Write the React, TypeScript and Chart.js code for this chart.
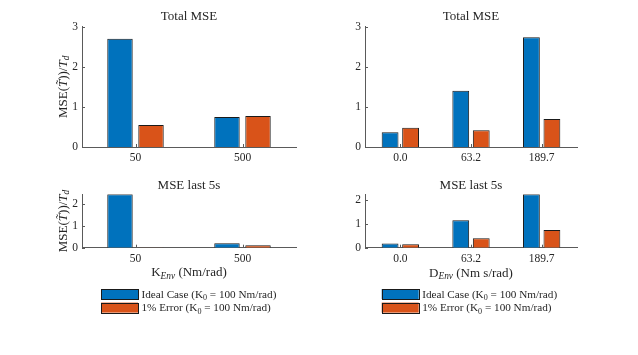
import React, { useEffect, useRef } from 'react';
import { Chart, registerables } from 'chart.js';

Chart.register(...registerables);

// ---------- data ----------
const kCategories = ['50', '500'];
const dCategories = ['0.0', '63.2', '189.7'];

const kTotalIdeal = [2.70, 0.75];
const kTotalError = [0.55, 0.77];
const dTotalIdeal = [0.37, 1.40, 2.74];
const dTotalError = [0.48, 0.42, 0.70];

const kLastIdeal = [2.46, 0.20];
const kLastError = [0.01, 0.11];
const dLastIdeal = [0.17, 1.14, 2.22];
const dLastError = [0.14, 0.39, 0.74];

const seriesNames = ['Ideal Case', '1% Error'];
const seriesColors = ['#0072BD', '#D95319'];
const titles = ['Total MSE', 'MSE last 5s'];

// ---------- styling ----------
const FONT = '"Liberation Serif", "Times New Roman", serif';
const TEXT = '#262626';
const AXIS = '#5a5a5a';
const EDGE = '#1a1a1a';

type Seg = { t: string; it?: boolean; sub?: boolean; tilde?: boolean };

function segFont(s: Seg, size: number) {
  const sz = s.sub ? size * 0.72 : size;
  return `${s.it ? 'italic ' : ''}${sz}px ${FONT}`;
}

function richWidth(ctx: CanvasRenderingContext2D, segs: Seg[], size: number) {
  let w = 0;
  for (const s of segs) {
    ctx.font = segFont(s, size);
    w += ctx.measureText(s.t).width;
  }
  return w;
}

function drawRich(
  ctx: CanvasRenderingContext2D,
  segs: Seg[],
  size: number,
  x: number,
  y: number,
  align: 'left' | 'center'
) {
  const w = richWidth(ctx, segs, size);
  let cx = align === 'center' ? x - w / 2 : x;
  ctx.textBaseline = 'alphabetic';
  for (const s of segs) {
    ctx.font = segFont(s, size);
    ctx.textAlign = 'left';
    const tw = ctx.measureText(s.t).width;
    const dy = s.sub ? size * 0.22 : 0;
    ctx.fillText(s.t, cx, y + dy);
    if (s.tilde) {
      ctx.font = `${size}px ${FONT}`;
      ctx.textAlign = 'center';
      ctx.fillText('\u02DC', cx + tw / 2 + size * 0.1, y - size * 0.12);
      ctx.textAlign = 'left';
    }
    cx += tw;
  }
}

const yLabelSegs: Seg[] = [
  { t: 'MSE(' },
  { t: 'T', it: true, tilde: true },
  { t: '))/' },
  { t: 'T', it: true },
  { t: 'd', it: true, sub: true },
];
const kLabelSegs: Seg[] = [{ t: 'K' }, { t: 'Env', it: true, sub: true }, { t: ' (Nm/rad)' }];
const dLabelSegs: Seg[] = [{ t: 'D' }, { t: 'Env', it: true, sub: true }, { t: ' (Nm s/rad)' }];
const legendSegs = (name: string): Seg[] => [
  { t: `${name} (K` },
  { t: '0', sub: true },
  { t: ' = 100 Nm/rad)' },
];

type Panel = {
  left: number;
  top: number;
  w: number;
  h: number;
  area: { l: number; t: number; r: number; b: number };
  cats: string[];
  ideal: number[];
  error: number[];
  yMax: number;
  title: string;
  titleBase: number;
  yLabel: boolean;
  xLabel: Seg[] | null;
  xLabelBase: number;
  legend: { x: number; y: number } | null;
};

const panels: Panel[] = [
  {
    left: 0, top: 0, w: 319, h: 170,
    area: { l: 82, t: 26.7, r: 296, b: 147 },
    cats: kCategories, ideal: kTotalIdeal, error: kTotalError,
    yMax: 3, title: titles[0], titleBase: 19.5,
    yLabel: true, xLabel: null, xLabelBase: 0, legend: null,
  },
  {
    left: 319, top: 0, w: 319, h: 170,
    area: { l: 46, t: 26.7, r: 258, b: 147 },
    cats: dCategories, ideal: dTotalIdeal, error: dTotalError,
    yMax: 3, title: titles[0], titleBase: 19.5,
    yLabel: false, xLabel: null, xLabelBase: 0, legend: null,
  },
  {
    left: 0, top: 170, w: 319, h: 185,
    area: { l: 82, t: 24.3, r: 296, b: 77.7 },
    cats: kCategories, ideal: kLastIdeal, error: kLastError,
    yMax: Math.max(...kLastIdeal, ...kLastError), title: titles[1], titleBase: 19,
    yLabel: true, xLabel: kLabelSegs, xLabelBase: 106, legend: { x: 101, y: 119 },
  },
  {
    left: 319, top: 170, w: 319, h: 185,
    area: { l: 46, t: 24.3, r: 258, b: 77.7 },
    cats: dCategories, ideal: dLastIdeal, error: dLastError,
    yMax: Math.max(...dLastIdeal, ...dLastError), title: titles[1], titleBase: 18.5,
    yLabel: false, xLabel: dLabelSegs, xLabelBase: 106.5, legend: { x: 62.7, y: 119 },
  },
];

const X_H = 20;

function PanelChart({ p }: { p: Panel }) {
  const ref = useRef<HTMLCanvasElement | null>(null);
  useEffect(() => {
    if (!ref.current) return;
    const decor = {
      id: 'decor',
      afterDraw(chart: any) {
        const ctx: CanvasRenderingContext2D = chart.ctx;
        const ca = chart.chartArea;
        const xs = chart.scales.x;
        const ys = chart.scales.y;
        ctx.save();
        // inward ticks
        ctx.strokeStyle = AXIS;
        ctx.lineWidth = 1;
        ctx.beginPath();
        for (let v = 0; v <= p.yMax + 1e-9; v += 1) {
          const py = Math.round(ys.getPixelForValue(v)) + 0.5;
          ctx.moveTo(ca.left, py);
          ctx.lineTo(ca.left + 3, py);
        }
        for (let i = 0; i < p.cats.length; i++) {
          const px = Math.round(xs.getPixelForValue(i)) + 0.5;
          ctx.moveTo(px, ca.bottom);
          ctx.lineTo(px, ca.bottom - 3);
        }
        ctx.stroke();
        ctx.fillStyle = TEXT;
        // title
        ctx.font = `13px ${FONT}`;
        ctx.textAlign = 'center';
        ctx.textBaseline = 'alphabetic';
        ctx.fillText(p.title, (ca.left + ca.right) / 2, p.titleBase);
        // y label
        if (p.yLabel) {
          ctx.save();
          ctx.translate(66.5, (ca.top + ca.bottom) / 2);
          ctx.rotate(-Math.PI / 2);
          drawRich(ctx, yLabelSegs, 13, 0, 0, 'center');
          ctx.restore();
        }
        // x label
        if (p.xLabel) {
          drawRich(ctx, p.xLabel, 13, (ca.left + ca.right) / 2, p.xLabelBase, 'center');
        }
        // legend
        if (p.legend) {
          const { x, y } = p.legend;
          seriesNames.forEach((name, i) => {
            const ry = y + i * 13.6;
            ctx.fillStyle = seriesColors[i];
            ctx.fillRect(x, ry, 37, 10);
            ctx.strokeStyle = EDGE;
            ctx.lineWidth = 1;
            ctx.strokeRect(Math.round(x) + 0.5, Math.round(ry) + 0.5, 37, 10);
            ctx.fillStyle = TEXT;
            drawRich(ctx, legendSegs(name), 11.2, x + 40.5, ry + 8.7, 'left');
          });
        }
        ctx.restore();
      },
    };
    const chart = new Chart(ref.current, {
      type: 'bar',
      data: {
        labels: p.cats,
        datasets: [
          {
            label: seriesNames[0],
            data: p.ideal,
            backgroundColor: seriesColors[0],
            borderColor: EDGE,
            borderWidth: 1,
            categoryPercentage: 0.58,
            barPercentage: 0.82,
          },
          {
            label: seriesNames[1],
            data: p.error,
            backgroundColor: seriesColors[1],
            borderColor: EDGE,
            borderWidth: 1,
            categoryPercentage: 0.58,
            barPercentage: 0.82,
          },
        ],
      },
      options: {
        animation: false,
        responsive: false,
        maintainAspectRatio: false,
        devicePixelRatio: 1,
        layout: {
          autoPadding: false,
          padding: {
            left: 0,
            top: p.area.t,
            right: p.w - p.area.r,
            bottom: p.h - p.area.b - X_H,
          },
        },
        plugins: {
          legend: { display: false },
          title: { display: false },
          tooltip: { enabled: false },
        },
        scales: {
          x: {
            type: 'category',
            offset: true,
            grid: { display: false, drawTicks: false },
            border: { display: true, color: AXIS, width: 1 },
            ticks: {
              color: TEXT,
              font: { family: FONT, size: 11.5 },
              padding: 4,
              maxRotation: 0,
              autoSkip: false,
            },
            afterFit(s: any) {
              s.height = X_H;
            },
          },
          y: {
            min: 0,
            max: p.yMax,
            grid: { display: false, drawTicks: false },
            border: { display: true, color: AXIS, width: 1 },
            ticks: {
              stepSize: 1,
              includeBounds: false,
              color: TEXT,
              font: { family: FONT, size: 11.5 },
              padding: 4,
              callback: (v: any) => String(v),
            },
            afterFit(s: any) {
              s.width = p.area.l;
            },
          },
        },
      },
      plugins: [decor],
    } as any);
    return () => chart.destroy();
  }, [p]);
  return (
    <canvas
      ref={ref}
      width={p.w}
      height={p.h}
      style={{ position: 'absolute', left: p.left, top: p.top, width: p.w, height: p.h }}
    />
  );
}

export default function App() {
  return (
    <div
      style={{
        position: 'fixed',
        left: 0,
        top: 0,
        width: 638,
        height: 355,
        background: '#ffffff',
        overflow: 'hidden',
      }}
    >
      {panels.map((p, i) => (
        <PanelChart key={i} p={p} />
      ))}
    </div>
  );
}
